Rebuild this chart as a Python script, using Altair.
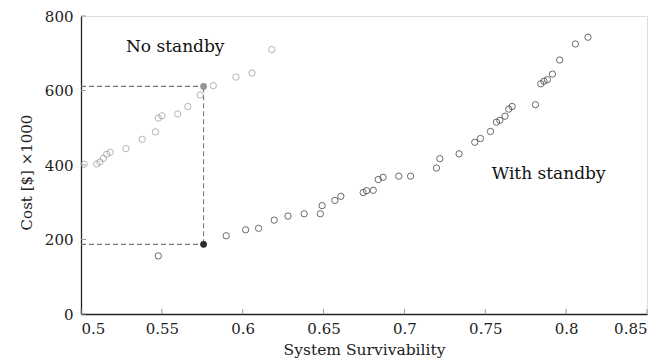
import altair as alt
import pandas as pd

# No standby (grey hollow circles)
ns_x = [0.502, 0.5097, 0.5117, 0.5138, 0.5159, 0.518, 0.5278, 0.5379, 0.546, 0.5478,
        0.550, 0.5598, 0.566, 0.5737, 0.5818, 0.5958, 0.6057, 0.618]
ns_y = [402, 403, 408, 418, 429, 434, 444, 469, 489, 526,
        532, 537, 557, 588, 613, 636, 647, 710]

# With standby (black hollow circles)
ws_x = [0.5478, 0.5898, 0.6018, 0.6098, 0.6195, 0.628, 0.638, 0.648, 0.6491, 0.657,
        0.6607, 0.6745, 0.6766, 0.6807, 0.6838, 0.6868, 0.6965, 0.7038, 0.7198, 0.7219,
        0.7338, 0.7435, 0.747, 0.7532, 0.7569, 0.759, 0.7622, 0.7645, 0.7666, 0.781,
        0.7843, 0.7863, 0.7884, 0.7915, 0.796, 0.8057, 0.8135]
ws_y = [156, 210, 226, 230, 252, 263, 269, 269, 291, 305,
        316, 326, 331, 332, 361, 367, 370, 370, 392, 417,
        430, 461, 471, 490, 515, 520, 531, 550, 557, 562,
        618, 625, 629, 644, 682, 725, 743]

# Highlighted (filled) points
sel_x = [0.5758, 0.5758]
sel_y = [611, 187]
sel_group = ["No standby", "With standby"]

x_ticks = [0.5, 0.55, 0.6, 0.65, 0.7, 0.75, 0.8, 0.85]
y_ticks = [0, 200, 400, 600, 800]

labels_text = ["No standby", "With standby"]
labels_x = [0.5278, 0.754]
labels_y = [717, 376]

FONT = "DejaVu Serif"
GREY = "#959595"
BLACK = "#2b2b2b"

xs = alt.Scale(domain=[0.5, 0.85], nice=False, zero=False)
ys = alt.Scale(domain=[0, 800], nice=False)

pts = pd.DataFrame({
    "x": ns_x + ws_x,
    "y": ns_y + ws_y,
    "g": ["No standby"] * len(ns_x) + ["With standby"] * len(ws_x),
})
sel = pd.DataFrame({"x": sel_x, "y": sel_y, "g": sel_group})
color_scale = alt.Scale(domain=["No standby", "With standby"], range=[GREY, BLACK])

base_x = alt.X("x:Q", scale=xs, title="System Survivability",
               axis=alt.Axis(values=x_ticks, format="~g", tickSize=0, grid=False,
                             domainColor="#222", domainWidth=1.3,
                             labelFont=FONT, labelFontSize=15, labelColor="#222",
                             labelPadding=7, titleFont=FONT, titleFontSize=15.5,
                             titleFontWeight="normal", titleColor="#222", titlePadding=6))
base_y = alt.Y("y:Q", scale=ys, title="Cost [$] \u00d71000",
               axis=alt.Axis(values=y_ticks, format="d", tickSize=0, grid=False,
                             domainColor="#222", domainWidth=1.3,
                             labelFont=FONT, labelFontSize=15, labelColor="#222",
                             labelPadding=8, titleFont=FONT, titleFontSize=15,
                             titleFontWeight="normal", titleColor="#222", titlePadding=10,
                             titleY=156))

points = alt.Chart(pts).mark_point(shape="circle", filled=False, size=40, strokeWidth=1).encode(
    x=base_x, y=base_y,
    color=alt.Color("g:N", scale=color_scale, legend=None),
)

filled = alt.Chart(sel).mark_point(shape="circle", filled=True, size=46, opacity=1).encode(
    x=alt.X("x:Q", scale=xs), y=alt.Y("y:Q", scale=ys),
    color=alt.Color("g:N", scale=alt.Scale(domain=["No standby", "With standby"],
                                           range=["#777777", "#000000"]), legend=None),
)

hdash = pd.DataFrame({"x": [0.5, 0.5], "x2": sel_x, "y": sel_y})
vdash = pd.DataFrame({"x": [sel_x[0]], "y": [sel_y[1]], "y2": [sel_y[0]]})

hlines = alt.Chart(hdash).mark_rule(strokeDash=[5, 3], color="#777", strokeWidth=1.1).encode(
    x=alt.X("x:Q", scale=xs), x2="x2:Q", y=alt.Y("y:Q", scale=ys))
vlines = alt.Chart(vdash).mark_rule(strokeDash=[5, 3], color="#777", strokeWidth=1.1).encode(
    x=alt.X("x:Q", scale=xs), y=alt.Y("y:Q", scale=ys), y2="y2:Q")

xt = alt.Chart(pd.DataFrame({"v": x_ticks})).mark_rule(color="#999", strokeWidth=1).encode(
    x=alt.X("v:Q", scale=xs), y=alt.value(298), y2=alt.value(293))
yt = alt.Chart(pd.DataFrame({"v": y_ticks})).mark_rule(color="#999", strokeWidth=1).encode(
    y=alt.Y("v:Q", scale=ys), x=alt.value(0), x2=alt.value(5))

txt = alt.Chart(pd.DataFrame({"t": labels_text, "x": labels_x, "y": labels_y})).mark_text(
    font=FONT, fontSize=17, align="left", baseline="middle", color="#111").encode(
    x=alt.X("x:Q", scale=xs), y=alt.Y("y:Q", scale=ys), text="t:N")

chart = alt.layer(hlines, vlines, xt, yt, points, filled, txt).properties(
    width=566, height=298,
    autosize=alt.AutoSizeParams(type="none"),
    padding={"left": 81, "top": 16, "right": 19, "bottom": 50},
).configure_view(stroke=None).configure(background="white")

chart.save("out.html", embed_options={"renderer": "svg", "actions": False})
